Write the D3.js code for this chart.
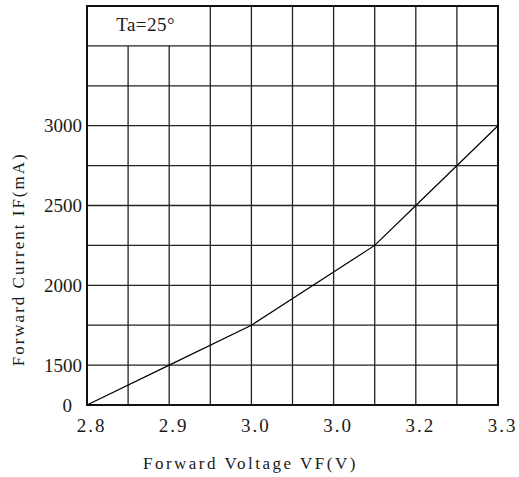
<!DOCTYPE html>
<html lang="en">
  <head>
    <meta charset="utf-8">
    <title>IF-VF</title>
    <script src="https://d3js.org/d3.v7.min.js"></script>
    <style>
      body { margin: 0; background: #fff; }
      text { font-family: "Liberation Serif", "DejaVu Serif", serif; fill: #1a1a1a; }
    </style>
  </head>
  <body>
    <div id="chart"></div>
    <script>
      // data
      const vf = [2.8, 2.9, 3.0, 3.15, 3.2, 3.3];
      const ifMa = [0, 1500, 1750, 2250, 2500, 3000];

      // axis ticks (the sheet labels 3.1 as "3.0")
      const xTicks = [2.8, 2.9, 3.0, 3.1, 3.2, 3.3];
      const xTickLabels = ["2.8", "2.9", "3.0", "3.0", "3.2", "3.3"];
      const yTicks = [0, 1500, 2000, 2500, 3000];
      const yTickLabels = ["0", "1500", "2000", "2500", "3000"];

      // grid positions
      const xGrid = [2.8, 2.85, 2.9, 2.95, 3.0, 3.05, 3.1, 3.15, 3.2, 3.25, 3.3];
      const yGrid = [0, 1500, 1750, 2000, 2250, 2500, 2750, 3000, 3250, 3500, 3750];

      const note = "Ta=25°";

      const margin = {top: 6, right: 21, bottom: 72, left: 87},
          width = 519 - margin.left - margin.right,
          height = 477 - margin.top - margin.bottom;
      const rowH = height / 10;

      const svg = d3.select("#chart")
        .append("svg")
          .attr("width", 519)
          .attr("height", 477)
        .append("g")
          .attr("transform", `translate(${margin.left},${margin.top})`);

      const x = d3.scaleLinear().domain([2.8, 3.3]).range([0, width]);
      // broken axis: 0 sits one row below 1500
      const y = d3.scaleLinear().domain([0, 1500, 3750]).range([height, height - rowH, 0]);

      // horizontal grid
      svg.append("g")
        .selectAll("line")
        .data(yGrid)
        .join("line")
          .attr("x1", 0)
          .attr("x2", width)
          .attr("y1", d => y(d))
          .attr("y2", d => y(d))
          .attr("stroke", "#222")
          .attr("stroke-width", 1.3);

      // vertical grid, the first two inner lines stop under the note box
      svg.append("g")
        .selectAll("line")
        .data(xGrid)
        .join("line")
          .attr("x1", d => x(d))
          .attr("x2", d => x(d))
          .attr("y1", (d, i) => (i == 1 || i == 2) ? y(3500) : 0)
          .attr("y2", height)
          .attr("stroke", "#222")
          .attr("stroke-width", 1.3);

      // frame
      svg.append("rect")
        .attr("width", width)
        .attr("height", height)
        .attr("fill", "none")
        .attr("stroke", "#111")
        .attr("stroke-width", 2);

      svg.append("text")
        .attr("x", (x(2.8) + x(2.95)) / 2 - 3)
        .attr("y", 25)
        .attr("text-anchor", "middle")
        .style("font-size", "19px")
        .style("letter-spacing", "0.5px")
        .text(note);

      // curve
      const pts = vf.map((v, i) => [v, ifMa[i]]);
      svg.append("path")
        .datum(pts)
        .attr("fill", "none")
        .attr("stroke", "#000")
        .attr("stroke-width", 1.2)
        .attr("d", d3.line().x(d => x(d[0])).y(d => y(d[1])));

      // x axis labels
      const xAxis = d3.axisBottom(x)
        .tickValues(xTicks)
        .tickSize(0)
        .tickPadding(14)
        .tickFormat((d, i) => xTickLabels[i]);
      const gx = svg.append("g")
        .attr("transform", `translate(0,${height})`)
        .call(xAxis);
      gx.select(".domain").remove();
      gx.selectAll("text")
        .attr("dx", 4)
        .style("font-size", "19px")
        .style("letter-spacing", "2px")
        .attr("font-family", null);

      // y axis labels
      const yAxis = d3.axisLeft(y)
        .tickValues(yTicks)
        .tickSize(0)
        .tickPadding(5)
        .tickFormat((d, i) => yTickLabels[i]);
      const gy = svg.append("g").call(yAxis);
      gy.select(".domain").remove();
      gy.selectAll("text")
        .attr("dx", d => d == 0 ? -10 : 0)
        .style("font-size", "19px")
        .attr("font-family", null);

      // axis titles
      svg.append("text")
        .attr("x", x(3.0) - 1)
        .attr("y", height + 64)
        .attr("text-anchor", "middle")
        .style("font-size", "17px")
        .style("letter-spacing", "2.5px")
        .text("Forward Voltage VF(V)");

      svg.append("text")
        .attr("transform", `translate(${-margin.left + 24},${y(2000) - 26}) rotate(-90)`)
        .attr("text-anchor", "middle")
        .style("font-size", "17px")
        .style("letter-spacing", "2px")
        .text("Forward Current IF(mA)");
    </script>
  </body>
</html>
